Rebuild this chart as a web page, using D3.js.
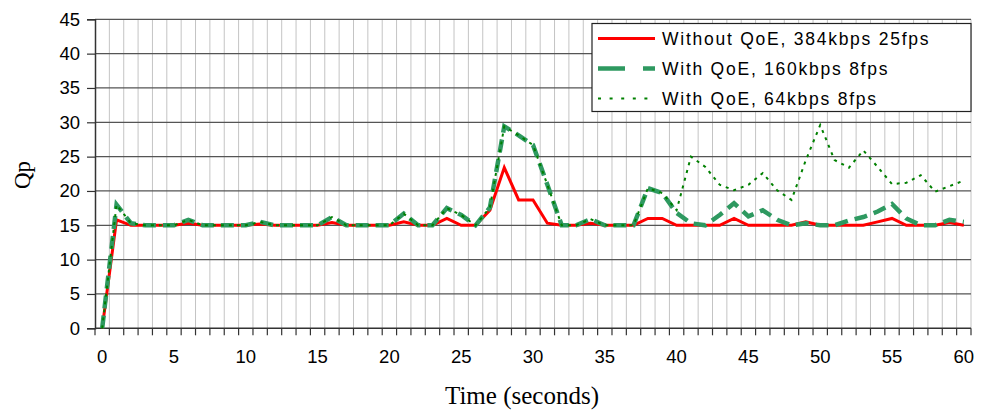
<!DOCTYPE html>
<html>
<head>
<meta charset="utf-8">
<script src="https://cdn.jsdelivr.net/npm/d3@7"></script>
<style>
  html, body { margin: 0; padding: 0; background: #fff; }
  svg { display: block; }
</style>
</head>
<body>
<svg id="chart" width="983" height="410"></svg>
<script>
// Time in seconds (one sample per second)
const seconds = d3.range(0, 61);

// Qp per second for each encoding setting
const withoutQoE384 = [
  0, 15.8, 15, 15, 15, 15, 15.3, 15, 15, 15,
  15, 15.2, 15, 15, 15, 15, 15.4, 15, 15, 15,
  15, 15.5, 15, 15, 16, 15, 15, 17.2, 23.4, 18.7,
  18.7, 15.3, 15, 15, 15.3, 15, 15, 15, 16, 16,
  15, 15, 15, 15, 16, 15, 15, 15, 15, 15.5,
  15, 15, 15, 15, 15.5, 16, 15, 15, 15, 15.4,
  15
];
const withQoE160 = [
  0, 18, 15.3, 15, 15, 15, 15.8, 15, 15, 15,
  15, 15.5, 15, 15, 15, 15, 16.2, 15, 15, 15,
  15, 16.7, 15, 15, 17.5, 16.5, 15, 17.6, 29.4, 28.1,
  26.7, 20.9, 15, 15, 15.9, 15, 15, 15, 20.4, 19.7,
  16.8, 15.3, 15, 16.5, 18.2, 16.3, 17.2, 15.8, 15, 15.3,
  15, 15, 15.7, 16.2, 17, 18.1, 16, 15, 15, 15.8,
  15.5
];
const withQoE64 = [
  0, 18, 15.3, 15, 15, 15, 15.8, 15, 15, 15,
  15, 15.5, 15, 15, 15, 15, 16.2, 15, 15, 15,
  15, 16.7, 15, 15, 17.5, 16.5, 15, 17.6, 29.4, 28.1,
  26.7, 20.9, 15, 15, 15.9, 15, 15, 15, 20.4, 19.7,
  17.2, 25, 23.5, 20.9, 20.1, 20.9, 22.6, 20.1, 18.7, 24.5,
  29.6, 24.5, 23.4, 25.9, 23.5, 21, 21.2, 22.3, 19.9, 20.7,
  21.5
];

const seriesNames = [
  "Without QoE, 384kbps 25fps",
  "With QoE, 160kbps 8fps",
  "With QoE, 64kbps 8fps"
];
const yTicks = d3.range(0, 46, 5);
const xLabels = d3.range(0, 61, 5);

const series = [
  { name: seriesNames[0], values: withoutQoE384, color: "#ff0000", width: 3, dash: null, legendDash: null },
  { name: seriesNames[1], values: withQoE160, color: "#2e9960", width: 4.5, dash: "13,7", legendDash: "27,18" },
  { name: seriesNames[2], values: withQoE64, color: "#008000", width: 2, dash: "3,5", legendDash: "3,8.6" }
];

const svg = d3.select("#chart");
const plotLeft = 95, plotRight = 971, plotTop = 19.3, plotBottom = 328.3;

// Category axis: one band per second, ticks on band edges
const x = d3.scaleBand().domain(seconds).range([plotLeft, plotRight]).paddingInner(0).paddingOuter(0);
const bw = x.bandwidth();
const cx = d => x(d) + bw / 2;
const y = d3.scaleLinear().domain([0, 45]).range([plotBottom, plotTop]);

// Vertical grid at band boundaries
const edges = seconds.map(s => x(s)).slice(1).concat([plotRight]);
svg.append("g")
  .selectAll("line").data(edges).join("line")
  .attr("x1", d => d).attr("x2", d => d)
  .attr("y1", plotTop).attr("y2", plotBottom)
  .attr("stroke", "#c4c4c4").attr("stroke-width", 1);

// Horizontal grid
svg.append("g")
  .selectAll("line").data(yTicks.filter(t => t > 0)).join("line")
  .attr("x1", plotLeft).attr("x2", plotRight)
  .attr("y1", d => y(d)).attr("y2", d => y(d))
  .attr("stroke", "#555").attr("stroke-width", 1.2);

// Y axis
const yAxis = svg.append("g").attr("transform", `translate(${plotLeft},0)`)
  .call(d3.axisLeft(y).tickValues(yTicks).tickSize(8).tickPadding(7));
yAxis.select(".domain").attr("stroke", "#333").attr("stroke-width", 1.5);
yAxis.selectAll(".tick line").attr("stroke", "#333").attr("stroke-width", 1.2);
yAxis.selectAll(".tick text")
  .attr("font-family", "Liberation Sans, Arial, sans-serif")
  .attr("font-size", 18.5).attr("fill", "#000");

// X axis: tick marks on band edges, labels every 5 seconds
const xg = svg.append("g");
xg.append("line")
  .attr("x1", plotLeft).attr("x2", plotRight).attr("y1", plotBottom).attr("y2", plotBottom)
  .attr("stroke", "#333").attr("stroke-width", 1.5);
xg.selectAll("line.tk").data([plotLeft].concat(edges)).join("line")
  .attr("class", "tk")
  .attr("x1", d => d).attr("x2", d => d)
  .attr("y1", plotBottom).attr("y2", plotBottom + 7)
  .attr("stroke", "#333").attr("stroke-width", 1.2);
xg.selectAll("text").data(xLabels).join("text")
  .attr("x", d => cx(d)).attr("y", 363)
  .attr("text-anchor", "middle")
  .attr("font-family", "Liberation Sans, Arial, sans-serif")
  .attr("font-size", 18.5).attr("fill", "#000")
  .text(d => d);

// Axis titles
svg.append("text")
  .attr("x", 522).attr("y", 404)
  .attr("text-anchor", "middle")
  .attr("font-family", "Liberation Serif, Times New Roman, serif")
  .attr("font-size", 25).attr("fill", "#000")
  .text("Time (seconds)");
svg.append("text")
  .attr("transform", "translate(30,175) rotate(-90)")
  .attr("text-anchor", "middle")
  .attr("font-family", "Liberation Serif, Times New Roman, serif")
  .attr("font-size", 23).attr("fill", "#000")
  .text("Qp");

// Series lines
const line = d3.line().x((d, i) => cx(seconds[i])).y(d => y(d));
svg.append("g")
  .selectAll("path").data(series).join("path")
  .attr("d", d => line(d.values))
  .attr("fill", "none")
  .attr("stroke", d => d.color)
  .attr("stroke-width", d => d.width)
  .attr("stroke-dasharray", d => d.dash)
  .attr("stroke-linejoin", "miter");

// Legend
const lg = svg.append("g");
lg.append("rect")
  .attr("x", 592).attr("y", 23.5).attr("width", 379).attr("height", 88)
  .attr("fill", "#fff").attr("stroke", "#222").attr("stroke-width", 1.2);
const rows = lg.selectAll("g").data(series).join("g")
  .attr("transform", (d, i) => `translate(0,${38.5 + i * 30})`);
rows.append("line")
  .attr("x1", 598).attr("x2", 655).attr("y1", 0).attr("y2", 0)
  .attr("stroke", d => d.color)
  .attr("stroke-width", d => d.width)
  .attr("stroke-dasharray", d => d.legendDash);
rows.append("text")
  .attr("x", 662).attr("y", 6.5)
  .attr("font-family", "Liberation Sans, Arial, sans-serif")
  .attr("font-size", 17.5).attr("letter-spacing", 1.75).attr("fill", "#000")
  .text(d => d.name);
</script>
</body>
</html>
